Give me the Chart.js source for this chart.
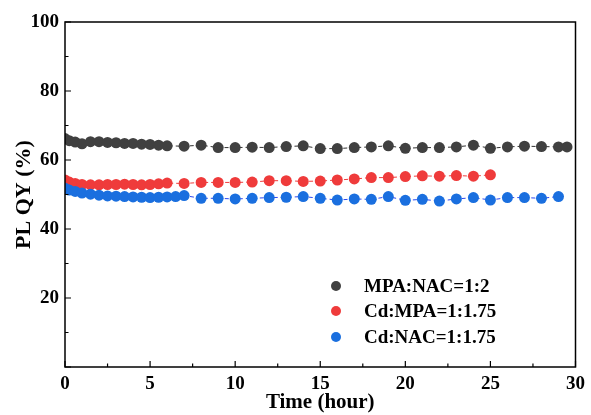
<!DOCTYPE html>
<html>
<head>
<meta charset="utf-8">
<script src="https://cdn.jsdelivr.net/npm/chart.js@4/dist/chart.umd.min.js"></script>
<style>
html,body{margin:0;padding:0;background:#fff;}
#wrap{width:591px;height:415px;}
</style>
</head>
<body>
<div id="wrap"><canvas id="c" width="591" height="415"></canvas></div>
<script>
const seriesLabels = ["MPA:NAC=1:2", "Cd:MPA=1:1.75", "Cd:NAC=1:1.75"];
const blackX = [0,0.25,0.6,1,1.5,2,2.5,3,3.5,4,4.5,5,5.5,6,7,8,9,10,11,12,13,14,15,16,17,18,19,20,21,22,23,24,25,26,27,28,29,29.5];
const blackY = [66.2,65.6,65.2,64.7,65.3,65.3,65.1,65.0,64.8,64.8,64.6,64.5,64.3,64.1,64.0,64.3,63.6,63.6,63.7,63.6,63.9,64.1,63.3,63.3,63.6,63.8,64.1,63.4,63.6,63.6,63.8,64.3,63.4,63.8,64.0,63.9,63.8,63.8];
const redX = [0,0.25,0.6,1,1.5,2,2.5,3,3.5,4,4.5,5,5.5,6,7,8,9,10,11,12,13,14,15,16,17,18,19,20,21,22,23,24,25];
const redY = [54.2,53.6,53.2,52.9,52.8,52.8,52.9,52.9,53.0,52.9,52.8,52.9,53.1,53.3,53.2,53.5,53.5,53.5,53.6,54.0,54.0,53.8,53.9,54.2,54.5,54.9,54.9,55.2,55.4,55.3,55.5,55.3,55.7];
const blueX = [0,0.25,0.6,1,1.5,2,2.5,3,3.5,4,4.5,5,5.5,6,6.5,7,8,9,10,11,12,13,14,15,16,17,18,19,20,21,22,23,24,25,26,27,28,29];
const blueY = [51.8,51.3,50.9,50.4,50.1,49.8,49.6,49.5,49.4,49.3,49.2,49.1,49.2,49.3,49.4,49.7,48.9,48.9,48.7,48.9,49.1,49.2,49.4,48.9,48.4,48.7,48.6,49.4,48.3,48.6,48.1,48.7,49.1,48.4,49.1,49.1,48.9,49.4];
const xTicks = [0,5,10,15,20,25,30];
const yTicks = [20,40,60,80,100];

const pointColors = ["#404040", "#ef3b3b", "#1a6fdf"];
const lineColors = ["#303030", "#ef3b3b", "#2a45f0"];
const FONT = "'Liberation Serif', 'Times New Roman', serif";

function pts(xs, ys){ return xs.map((x,i)=>({x:x, y:ys[i]})); }

const frame = {
  id:'frame',
  afterDatasetsDraw(chart){
    const ctx = chart.ctx, a = chart.chartArea;
    const xs = chart.scales.x, ys = chart.scales.y;
    ctx.save();
    ctx.strokeStyle = '#000';
    ctx.lineWidth = 1.5;
    ctx.strokeRect(a.left, a.top, a.right - a.left, a.bottom - a.top);
    ctx.lineWidth = 1.2;
    ctx.beginPath();
    for (let v = 0; v <= 30; v += 2.5) {
      const px = xs.getPixelForValue(v);
      const len = (v % 5 === 0) ? 6 : 3.5;
      ctx.moveTo(px, a.bottom); ctx.lineTo(px, a.bottom - len);
    }
    for (let v = 0; v <= 100; v += 10) {
      const py = ys.getPixelForValue(v);
      const len = (v % 20 === 0) ? 6 : 3.5;
      ctx.moveTo(a.left, py); ctx.lineTo(a.left + len, py);
    }
    ctx.stroke();
    // legend
    const lx = 336, tx = 364, rows = [286, 311, 337];
    ctx.font = "bold 19px " + FONT;
    ctx.textBaseline = 'middle';
    ctx.fillStyle = '#000';
    chart.data.datasets.forEach((ds, i) => {
      ctx.beginPath();
      ctx.fillStyle = ds.backgroundColor;
      ctx.arc(lx, rows[i], 5, 0, Math.PI*2);
      ctx.fill();
      ctx.fillStyle = '#000';
      ctx.fillText(ds.label, tx, rows[i] + 1);
    });
    ctx.restore();
  }
};

function mk(i, xs, ys, order){
  return {
    label: seriesLabels[i],
    data: pts(xs, ys),
    showLine: true,
    borderColor: lineColors[i],
    borderWidth: 1,
    borderDash: [4, 3],
    backgroundColor: pointColors[i],
    pointBackgroundColor: pointColors[i],
    pointBorderWidth: 0,
    pointRadius: 5.5,
    order: order
  };
}

new Chart(document.getElementById('c'), {
  type: 'scatter',
  data: {
    datasets: [mk(0, blackX, blackY, 2), mk(1, redX, redY, 1), mk(2, blueX, blueY, 0)]
  },
  options: {
    responsive: false,
    animation: false,
    devicePixelRatio: 1,
    layout: { padding: { left: 0, right: 9, top: 22, bottom: 0 } },
    plugins: { legend: { display: false }, tooltip: { enabled: false } },
    scales: {
      x: {
        type: 'linear', min: 0, max: 30,
        afterBuildTicks(s){ s.ticks = xTicks.map(v => ({value: v})); },
        afterFit(s){ s.height = 48; },
        grid: { display: false, drawTicks: false },
        border: { display: false },
        ticks: { padding: 6, color: '#000', font: { family: FONT, size: 19, weight: 'bold' }, maxRotation: 0 },
        title: { display: true, text: 'Time (hour)', color: '#000', padding: { top: 0, bottom: 0 }, font: { family: FONT, size: 21, weight: 'bold' } }
      },
      y: {
        type: 'linear', min: 0, max: 100,
        afterBuildTicks(s){ s.ticks = yTicks.map(v => ({value: v})); },
        afterFit(s){ s.width = 65; },
        grid: { display: false, drawTicks: false },
        border: { display: false },
        ticks: { padding: 6, color: '#000', font: { family: FONT, size: 19, weight: 'bold' } },
        title: { display: true, text: 'PL QY (%)', color: '#000', padding: { top: 11, bottom: 0 }, font: { family: FONT, size: 22, weight: 'bold' } }
      }
    }
  },
  plugins: [frame]
});
</script>
</body>
</html>
